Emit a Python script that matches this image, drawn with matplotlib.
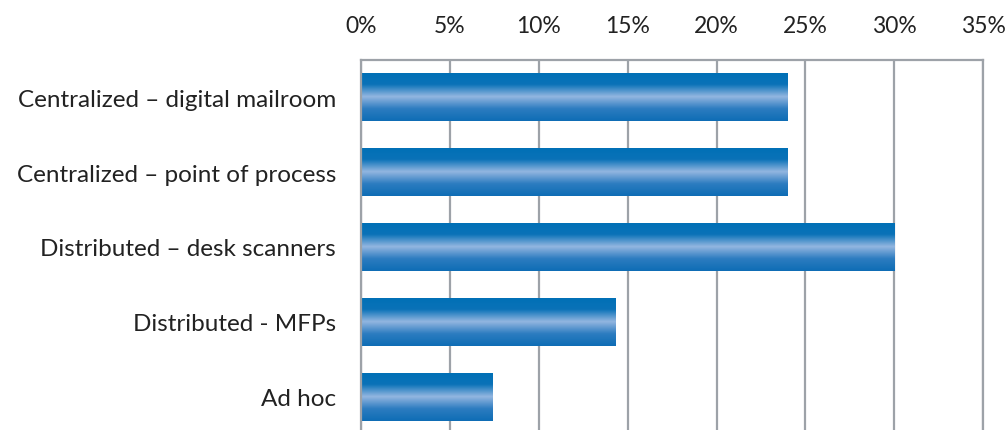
import matplotlib
matplotlib.use("Agg")
import matplotlib.pyplot as plt
import numpy as np
from matplotlib.colors import LinearSegmentedColormap

categories = ["Centralized – digital mailroom", "Centralized – point of process",
              "Distributed – desk scanners", "Distributed - MFPs", "Ad hoc"]
values = [24.0, 24.0, 30.0, 14.3, 7.4]
xticks = [0, 5, 10, 15, 20, 25, 30, 35]
xticklabels = ["0%", "5%", "10%", "15%", "20%", "25%", "30%", "35%"]

plt.rcParams['font.family'] = ['Lato', 'DejaVu Sans']

fig = plt.figure(figsize=(10.08, 4.31), dpi=100)
ax = fig.add_axes([0.3581, -0.0104, 0.6173, 0.870])

grid_c = "#9DA2A8"
y = np.arange(len(categories))
bars = ax.barh(y, values, height=0.65, color="none", edgecolor="none", zorder=3)

cmap = LinearSegmentedColormap.from_list("g", [
    (0.0, "#0070B6"), (0.25, "#0A72B8"), (0.5, "#93B6E0"),
    (0.75, "#2C7CC0"), (1.0, "#0E6DB5")])
grad = np.linspace(0, 1, 256).reshape(-1, 1)
for b in bars:
    x0, y0 = b.get_x(), b.get_y()
    w, h = b.get_width(), b.get_height()
    im = ax.imshow(grad, cmap=cmap, aspect="auto", extent=[x0, x0 + w, y0 + h, y0],
                   zorder=3, interpolation="bilinear")
    im.set_clip_path(b)

ax.set_xlim(0, 35)
ax.set_ylim(len(categories) - 0.5, -0.5)
ax.set_xticks(xticks)
ax.set_xticklabels(xticklabels)
ax.set_yticks(y)
ax.set_yticklabels(categories)
ax.xaxis.tick_top()
ax.tick_params(axis="both", length=0, colors="#222222")
ax.tick_params(axis="x", pad=17, labelsize=16.5)
ax.tick_params(axis="y", pad=18, labelsize=17.5)
ax.grid(axis="x", color=grid_c, linewidth=1.6, zorder=1)
ax.set_axisbelow(True)
ax.spines["bottom"].set_visible(False)
for s in ["top", "left", "right"]:
    ax.spines[s].set_color(grid_c)
    ax.spines[s].set_linewidth(1.6)
    ax.spines[s].set_zorder(4)

fig.savefig("out.png", dpi=100)
